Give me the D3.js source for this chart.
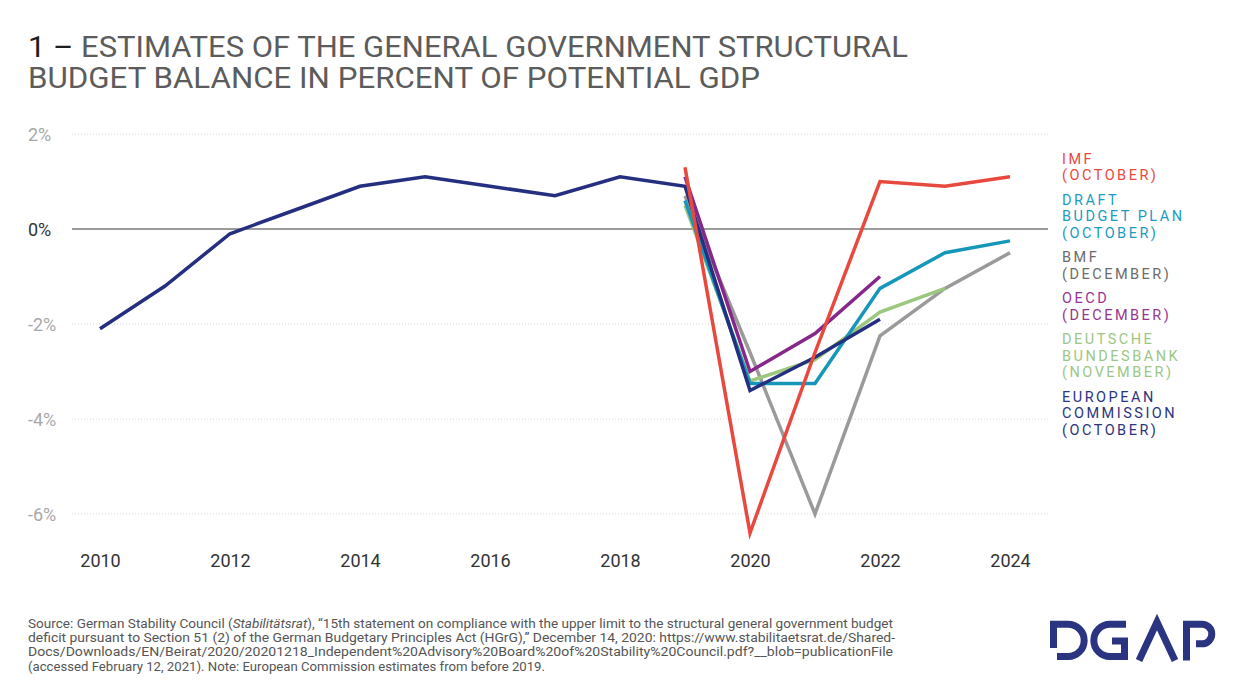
<!DOCTYPE html>
<html>
<head>
<meta charset="utf-8">
<script src="https://cdn.jsdelivr.net/npm/d3@7"></script>
<style>
  html, body { margin: 0; padding: 0; background: #fff; }
  svg { display: block; }
  text { font-family: Roboto, "Noto Sans", sans-serif; }
</style>
</head>
<body>
<svg id="chart" width="1242" height="699"></svg>
<script>
// ---------- data ----------
const axisYears = [2010, 2012, 2014, 2016, 2018, 2020, 2022, 2024];
const yTicks = [2, 0, -2, -4, -6];
const yTickLabels = ["2%", "0%", "-2%", "-4%", "-6%"];

const ecYears = [2010, 2011, 2012, 2013, 2014, 2015, 2016, 2017, 2018, 2019, 2020, 2021, 2022];
const ecValues = [-2.1, -1.2, -0.1, 0.4, 0.9, 1.1, 0.9, 0.7, 1.1, 0.9, -3.4, -2.7, -1.9];

const imfYears = [2019, 2020, 2021, 2022, 2023, 2024];
const imfValues = [1.3, -6.4, -2.6, 1.0, 0.9, 1.1];

const dbpYears = [2019, 2020, 2021, 2022, 2023, 2024];
const dbpValues = [0.6, -3.25, -3.25, -1.25, -0.5, -0.25];

const bmfYears = [2019, 2020, 2021, 2022, 2023, 2024];
const bmfValues = [0.7, -2.6, -6.0, -2.25, -1.25, -0.5];

const oecdYears = [2019, 2020, 2021, 2022];
const oecdValues = [1.1, -3.0, -2.2, -1.0];

const bubaYears = [2019, 2020, 2021, 2022, 2023];
const bubaValues = [0.5, -3.2, -2.75, -1.75, -1.25];

const legendLabels = [
  ["IMF", "(OCTOBER)"],
  ["DRAFT", "BUDGET PLAN", "(OCTOBER)"],
  ["BMF", "(DECEMBER)"],
  ["OECD", "(DECEMBER)"],
  ["DEUTSCHE", "BUNDESBANK", "(NOVEMBER)"],
  ["EUROPEAN", "COMMISSION", "(OCTOBER)"]
];

const titleLines = ["ESTIMATES OF THE GENERAL GOVERNMENT STRUCTURAL", "BUDGET BALANCE IN PERCENT OF POTENTIAL GDP"];

// ---------- styling ----------
const C = {
  imf: "#e8493f", dbp: "#1697ba", bmf: "#9a9a9a", oecd: "#86278a", buba: "#9cc77e", ec: "#252f80"
};
const legendColors = ["#e8493f", "#1a9bbf", "#6b6b6b", "#94358f", "#9cc784", "#2b3480"];

const svg = d3.select("#chart");
const x = d3.scaleLinear().domain([2010, 2024]).range([100, 1010]);
const y = d3.scaleLinear().domain([-6, 2]).range([514, 134]);

// ---------- title ----------
const title = svg.append("text").attr("x", 28).attr("y", 57)
  .attr("font-size", 29).attr("fill", "#5c5c5c")
  .attr("textLength", 880).attr("lengthAdjust", "spacingAndGlyphs");
title.append("tspan").attr("fill", "#1e1e1e").text("1 – ");
title.append("tspan").text(titleLines[0]);
svg.append("text").attr("x", 28).attr("y", 88).attr("font-size", 29).attr("fill", "#5c5c5c")
  .attr("textLength", 732).attr("lengthAdjust", "spacingAndGlyphs")
  .text(titleLines[1]);

// ---------- grid ----------
const grid = svg.append("g");
grid.selectAll("line").data(yTicks.filter(d => d !== 0)).join("line")
  .attr("x1", 72).attr("x2", 1048)
  .attr("y1", d => y(d)).attr("y2", d => y(d))
  .attr("stroke", "#d6d6d6").attr("stroke-width", 1).attr("stroke-dasharray", "1,2");
svg.append("line").attr("x1", 72).attr("x2", 1048).attr("y1", y(0)).attr("y2", y(0))
  .attr("stroke", "#7a7a7a").attr("stroke-width", 1.5);

// ---------- y axis labels ----------
svg.append("g").selectAll("text").data(yTicks).join("text")
  .attr("x", 28).attr("y", d => y(d) + 7)
  .attr("font-size", 18)
  .attr("fill", d => d === 0 ? "#333" : "#a8a8a8")
  .text((d, i) => yTickLabels[i]);

// ---------- x axis ----------
const xAxis = d3.axisBottom(x).tickValues(axisYears).tickFormat(d3.format("d")).tickSize(0).tickPadding(0);
const xg = svg.append("g").attr("transform", "translate(0,553)").call(xAxis);
xg.select(".domain").remove();
xg.selectAll("text").attr("font-size", 18).attr("fill", "#333")
  .attr("font-family", "Roboto, sans-serif").attr("dy", "0.78em");

// ---------- lines ----------
const line = d3.line().x(d => x(d[0])).y(d => y(d[1]));
const series = [
  { years: bmfYears, values: bmfValues, color: C.bmf },
  { years: bubaYears, values: bubaValues, color: C.buba },
  { years: dbpYears, values: dbpValues, color: C.dbp },
  { years: oecdYears, values: oecdValues, color: C.oecd },
  { years: ecYears, values: ecValues, color: C.ec },
  { years: imfYears, values: imfValues, color: C.imf }
];
svg.append("g").selectAll("path").data(series).join("path")
  .attr("d", s => line(s.years.map((yr, i) => [yr, s.values[i]])))
  .attr("fill", "none").attr("stroke", s => s.color)
  .attr("stroke-width", 3.5).attr("stroke-linejoin", "miter").attr("stroke-linecap", "butt");

// ---------- legend ----------
const leg = svg.append("g").attr("transform", "translate(1062,0)");
let ly = 164;
legendLabels.forEach((lines, gi) => {
  lines.forEach((t, li) => {
    leg.append("text").attr("x", 0).attr("y", ly)
      .attr("font-size", 14.5).attr("letter-spacing", 2.5)
      .attr("fill", legendColors[gi]).text(t);
    if (li < lines.length - 1) ly += 16.4;
  });
  ly += 24.6;
});

// ---------- footer ----------
const foot = [
  null,
  "deficit pursuant to Section 51 (2) of the German Budgetary Principles Act (HGrG),\u201d December 14, 2020: https://www.stabilitaetsrat.de/Shared-",
  "Docs/Downloads/EN/Beirat/2020/20201218_Independent%20Advisory%20Board%20of%20Stability%20Council.pdf?__blob=publicationFile",
  "(accessed February 12, 2021). Note: European Commission estimates from before 2019."
];
const footLens = [865, 867, 865, 517];
const fg = svg.append("g").attr("font-size", 12.5).attr("fill", "#555");
const f1 = fg.append("text").attr("x", 28).attr("y", 628)
  .attr("textLength", footLens[0]).attr("lengthAdjust", "spacingAndGlyphs");
f1.append("tspan").text("Source: German Stability Council (");
f1.append("tspan").attr("font-style", "italic").text("Stabilitätsrat");
f1.append("tspan").text("), \u201c15th statement on compliance with the upper limit to the structural general government budget");
for (let i = 1; i < 4; i++) {
  fg.append("text").attr("x", 28).attr("y", 628 + i * 14.2)
    .attr("textLength", footLens[i]).attr("lengthAdjust", "spacingAndGlyphs")
    .text(foot[i]);
}

// ---------- logo ----------
const logo = svg.append("g").attr("fill", "none").attr("stroke", "#2b3480")
  .attr("stroke-width", 7).attr("stroke-linejoin", "miter");
logo.append("path").attr("d", "M1053.5,648 V624.2 H1068 A16.2,16.2 0 0 1 1068,656.6 H1057");
logo.append("path").attr("d", "M1126,624.2 H1110 A16.2,16.2 0 0 0 1110,656.6 H1124.5 V641 H1112");
logo.append("path").attr("d", "M1139,660.5 L1157,622 L1175,660.5");
logo.append("path").attr("d", "M1186.5,660.5 V624.2 H1202 A9.8,9.8 0 0 1 1202,643.8 H1196");
</script>
</body>
</html>
